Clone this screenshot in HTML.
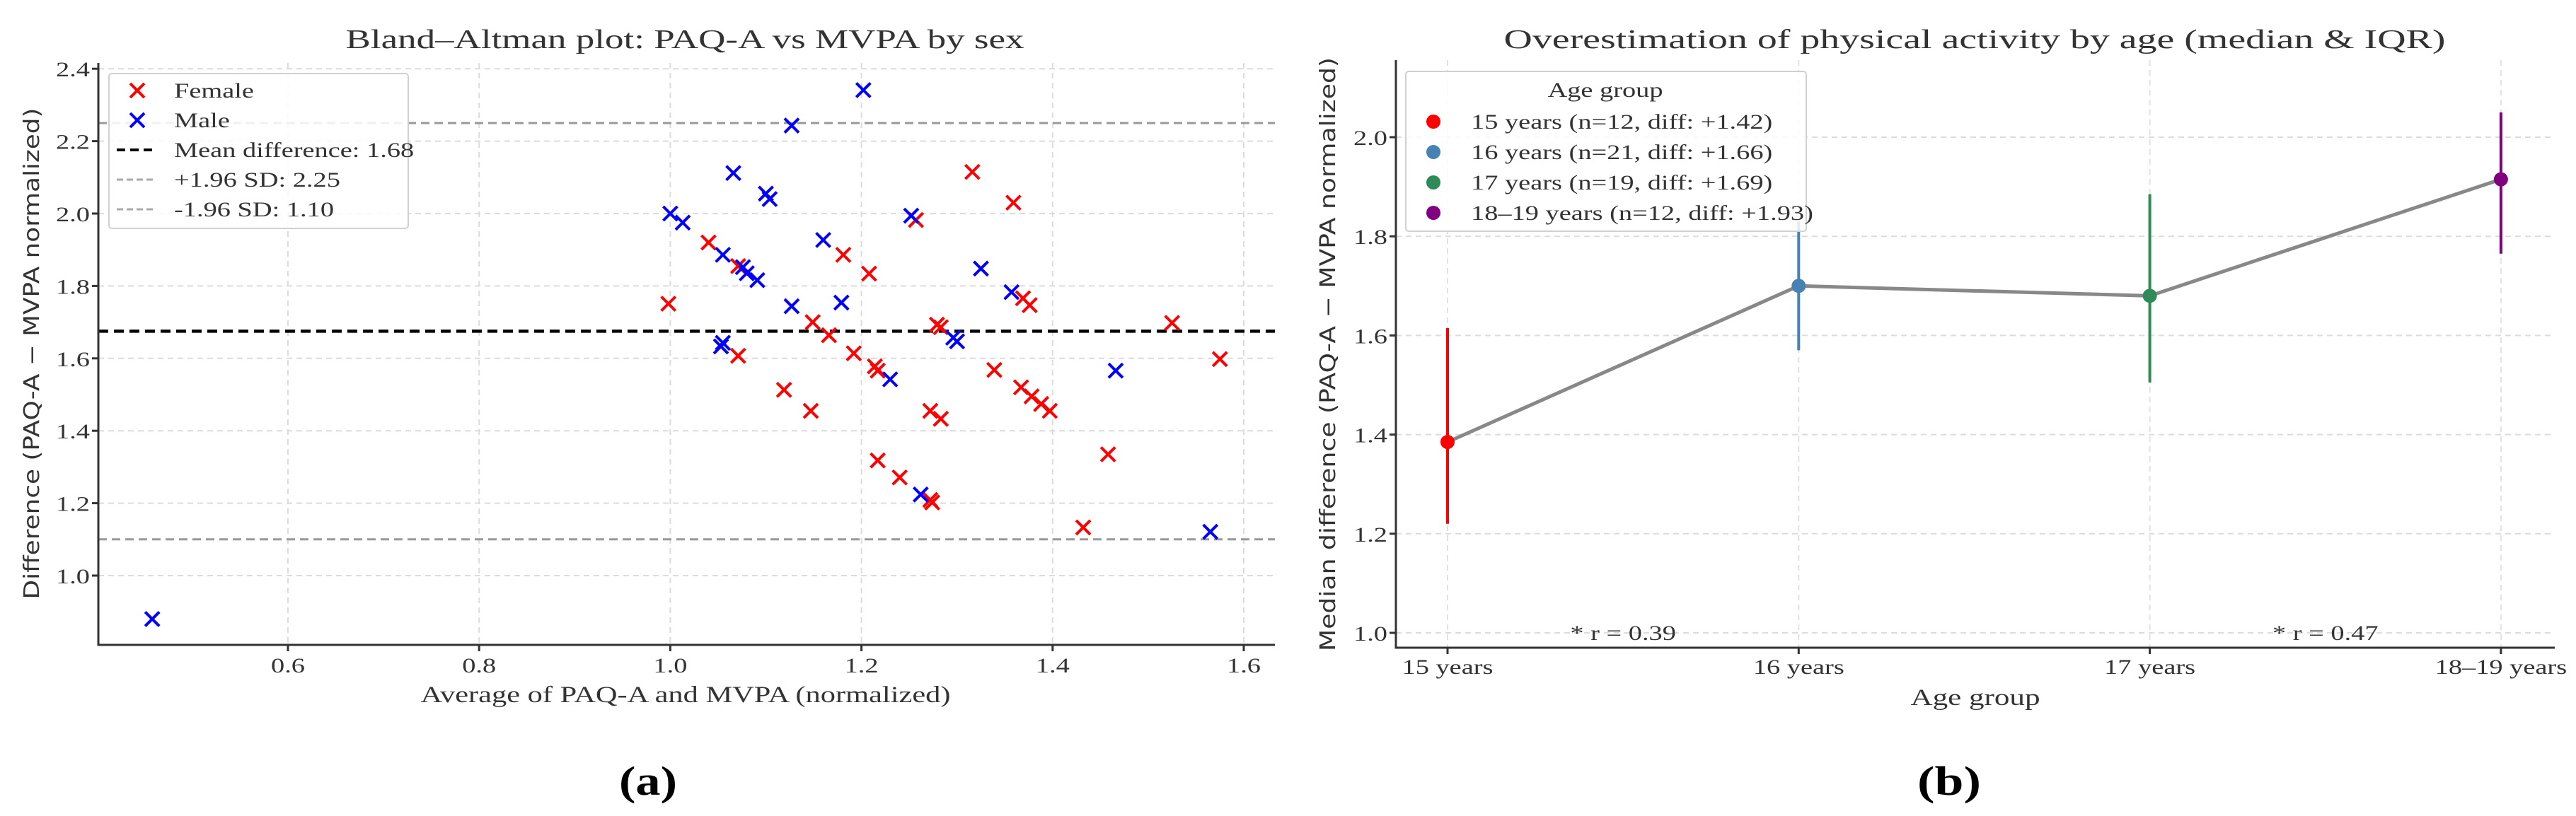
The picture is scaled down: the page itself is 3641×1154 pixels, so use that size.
<!DOCTYPE html>
<html><head><meta charset="utf-8">
<style>
html,body{margin:0;padding:0;background:#fff;}
svg{display:block;}
text{font-family:"Liberation Serif","DejaVu Serif",serif;fill:#333;}
</style></head>
<body>
<svg id="fig" width="3641" height="1154" viewBox="0 0 3641 1154" xmlns="http://www.w3.org/2000/svg">
<g id="pa"></g>
<g id="pb"></g>
</svg>
<script>
// ---- Panel (a) data ----
const femaleX = [0.998,1.040,1.071,1.071,1.119,1.147,1.149,1.166,1.181,1.192,1.208,1.214,1.217,1.217,1.240,1.257,1.272,1.272,1.274,1.279,1.283,1.283,1.316,1.339,1.359,1.367,1.369,1.376,1.378,1.388,1.397,1.432,1.458,1.525,1.575];
const femaleY = [1.751,1.920,1.855,1.607,1.513,1.455,1.700,1.664,1.886,1.614,1.834,1.578,1.566,1.318,1.271,1.982,1.455,1.209,1.202,1.693,1.686,1.433,2.115,1.568,2.030,1.520,1.766,1.747,1.495,1.474,1.455,1.133,1.335,1.698,1.598];
const maleX = [0.458,1.000,1.013,1.055,1.055,1.053,1.066,1.076,1.080,1.091,1.100,1.104,1.127,1.127,1.160,1.179,1.202,1.230,1.252,1.262,1.296,1.300,1.325,1.357,1.466,1.565];
const maleY = [0.880,2.000,1.975,1.886,1.643,1.633,2.112,1.852,1.835,1.816,2.055,2.040,2.243,1.744,1.927,1.754,2.341,1.542,1.994,1.224,1.657,1.647,1.848,1.783,1.566,1.121];
const meanDiff = 1.675;
const upperLoA = 2.25;
const lowerLoA = 1.10;
const aXTicks = [0.6,0.8,1.0,1.2,1.4,1.6];
const aYTicks = [1.0,1.2,1.4,1.6,1.8,2.0,2.2,2.4];
// ---- Panel (b) data ----
const ageGroups = ["15 years","16 years","17 years","18–19 years"];
const medians = [1.385,1.700,1.680,1.915];
const q1 = [1.220,1.570,1.505,1.765];
const q3 = [1.615,1.830,1.885,2.050];
const legendLabels = ["15 years (n=12, diff: +1.42)","16 years (n=21, diff: +1.66)","17 years (n=19, diff: +1.69)","18–19 years (n=12, diff: +1.93)"];
const bYTicks = [1.0,1.2,1.4,1.6,1.8,2.0];
const rLabels = ["* r = 0.39","* r = 0.47"];

const NS="http://www.w3.org/2000/svg";
function el(parent,tag,attrs){const e=document.createElementNS(NS,tag);for(const k in attrs)e.setAttribute(k,attrs[k]);parent.appendChild(e);return e;}
function txt(parent,x,y,s,anchor,size,sx,extra){
  const g=el(parent,'g',{transform:`translate(${x},${y}) scale(${sx},1)`});
  const t=el(g,'text',Object.assign({x:0,y:0,'text-anchor':anchor,'font-size':size},extra||{}));
  t.textContent=s;return t;}
const SX=1.28;

// ===== Panel A =====
const A=document.getElementById('pa');
const aL=139,aR=1802,aT=89,aB=912;
const axX=v=>407+(v-0.6)*1351;
const axY=v=>814-(v-1.0)*512;
aXTicks.forEach(v=>{const l=el(A,'line',{x1:axX(v),x2:axX(v),y1:aT,y2:aB,stroke:'#dcdcdc','stroke-width':2,'stroke-dasharray':'8,6'});

});
aYTicks.forEach(v=>{const l=el(A,'line',{x1:aL,x2:aR,y1:axY(v),y2:axY(v),stroke:'#dcdcdc','stroke-width':2,'stroke-dasharray':'8,6'});

});
[[upperLoA,'upper-loa-line'],[lowerLoA,'lower-loa-line']].forEach(([v,n])=>{const l=el(A,'line',{x1:aL,x2:aR,y1:axY(v),y2:axY(v),stroke:'#999','stroke-width':3,'stroke-dasharray':'12,7'});

});
{const l=el(A,'line',{x1:aL,x2:aR,y1:axY(meanDiff),y2:axY(meanDiff),stroke:'#000','stroke-width':4.5,'stroke-dasharray':'14,8'});

}
function xmark(parent,cx,cy,color){const g=el(parent,'g',{});
el(g,'line',{x1:cx-10,y1:cy-10,x2:cx+10,y2:cy+10,stroke:color,'stroke-width':4});
el(g,'line',{x1:cx-10,y1:cy+10,x2:cx+10,y2:cy-10,stroke:color,'stroke-width':4});return g;}
femaleX.forEach((v,i)=>{const g=xmark(A,axX(v),axY(femaleY[i]),'#ff0000');

});
maleX.forEach((v,i)=>{const g=xmark(A,axX(v),axY(maleY[i]),'#0000ff');

});
el(A,'line',{x1:aL,x2:aL,y1:aT,y2:aB+1.5,stroke:'#333','stroke-width':3});
el(A,'line',{x1:aL-1.5,x2:aR,y1:aB,y2:aB,stroke:'#333','stroke-width':3});
aXTicks.forEach(v=>{el(A,'line',{x1:axX(v),x2:axX(v),y1:aB,y2:aB+9,stroke:'#333','stroke-width':3});
const t=txt(A,axX(v),951,v.toFixed(1),'middle',30,SX);

});
aYTicks.forEach(v=>{el(A,'line',{x1:aL-9,x2:aL,y1:axY(v),y2:axY(v),stroke:'#333','stroke-width':3});
const t=txt(A,127,axY(v)+11,v.toFixed(1),'end',30,SX);

});
{const r=el(A,'rect',{x:154,y:104,width:423,height:219,fill:'rgba(255,255,255,0.85)',stroke:'#d0d0d0','stroke-width':2,rx:4});


const items=[['Female','x','#ff0000',128],['Male','x','#0000ff',170],['Mean difference: 1.68','l','#000',212],['+1.96 SD: 2.25','g','#aaa',254],['-1.96 SD: 1.10','g','#aaa',296]];
items.forEach(([s,k,c,y])=>{if(k==='x')xmark(A,194,y,c);else el(A,'line',{x1:165,x2:220,y1:y,y2:y,stroke:c,'stroke-width':k==='l'?4:3,'stroke-dasharray':k==='l'?'12,7':'9,5'});
const t=txt(A,246,y+10,s,'start',30,SX);

});}
{const t=el(A,'text',{x:968,y:68,'text-anchor':'middle','font-size':38,textLength:959,lengthAdjust:'spacingAndGlyphs'});t.textContent='Bland–Altman plot: PAQ-A vs MVPA by sex';

}
{const t=el(A,'text',{x:969,y:993,'text-anchor':'middle','font-size':33,textLength:749,lengthAdjust:'spacingAndGlyphs'});t.textContent='Average of PAQ-A and MVPA (normalized)';

}
{const t=el(A,'text',{x:0,y:0,transform:'translate(55,500) rotate(-90)','text-anchor':'middle','font-size':30,textLength:695,lengthAdjust:'spacingAndGlyphs',style:'font-family:"DejaVu Sans",sans-serif'});t.textContent='Difference (PAQ-A − MVPA normalized)';

}
{const t=el(A,'text',{x:916,y:1124,'text-anchor':'middle','font-size':58,textLength:82,lengthAdjust:'spacingAndGlyphs','font-weight':'bold'});t.textContent='(a)';t.style.fill='#000';

}

// ===== Panel B =====
const B=document.getElementById('pb');
const bL=1973,bR=3611,bT=85,bB=916;
const bxX=i=>2046+i*496.3;
const byY=v=>895-(v-1.0)*701;
ageGroups.forEach((s,i)=>{const l=el(B,'line',{x1:bxX(i),x2:bxX(i),y1:bT,y2:bB,stroke:'#e2e2e2','stroke-width':2,'stroke-dasharray':'8,6'});

});
bYTicks.forEach(v=>{const l=el(B,'line',{x1:bL,x2:bR,y1:byY(v),y2:byY(v),stroke:'#dcdcdc','stroke-width':2,'stroke-dasharray':'8,6'});

});
{const pts=medians.map((v,i)=>bxX(i)+','+byY(v)).join(' ');
const p=el(B,'polyline',{points:pts,fill:'none',stroke:'#888','stroke-width':5});

}
const cols=['#ff0000','#4682b4','#2e8b57','#800080'];
medians.forEach((v,i)=>{const g=el(B,'g',{});
el(g,'line',{x1:bxX(i),x2:bxX(i),y1:byY(q1[i]),y2:byY(q3[i]),stroke:cols[i],'stroke-width':4});
el(g,'ellipse',{cx:bxX(i),cy:byY(v),rx:10,ry:10,fill:cols[i]});

});
el(B,'line',{x1:bL,x2:bL,y1:bT,y2:bB+1.5,stroke:'#333','stroke-width':3});
el(B,'line',{x1:bL-1.5,x2:bR,y1:bB,y2:bB,stroke:'#333','stroke-width':3});
ageGroups.forEach((s,i)=>{el(B,'line',{x1:bxX(i),x2:bxX(i),y1:bB,y2:bB+9,stroke:'#333','stroke-width':3});
const t=txt(B,bxX(i),953,s,'middle',30,SX);

});
bYTicks.forEach(v=>{el(B,'line',{x1:bL-9,x2:bL,y1:byY(v),y2:byY(v),stroke:'#333','stroke-width':3});
const t=txt(B,1961,byY(v)+11,v.toFixed(1),'end',30,SX);

});
rLabels.forEach((s,i)=>{const t=txt(B,(bxX(2*i)+bxX(2*i+1))/2,905,s,'middle',30,SX);

});
{const r=el(B,'rect',{x:1987,y:101,width:566,height:226,fill:'rgba(255,255,255,0.85)',stroke:'#d0d0d0','stroke-width':2,rx:4});


const tt=txt(B,2269,137,'Age group','middle',30,SX);


legendLabels.forEach((s,i)=>{const y=172+i*43;
el(B,'ellipse',{cx:2026,cy:y,rx:10,ry:10,fill:cols[i]});
const t=txt(B,2079,y+10,s,'start',30,SX);

});}
{const t=el(B,'text',{x:2791,y:68,'text-anchor':'middle','font-size':38,textLength:1331,lengthAdjust:'spacingAndGlyphs'});t.textContent='Overestimation of physical activity by age (median & IQR)';

}
{const t=el(B,'text',{x:2792,y:997,'text-anchor':'middle','font-size':33,textLength:183,lengthAdjust:'spacingAndGlyphs'});t.textContent='Age group';

}
{const t=el(B,'text',{x:0,y:0,transform:'translate(1887,501) rotate(-90)','text-anchor':'middle','font-size':30,textLength:840,lengthAdjust:'spacingAndGlyphs',style:'font-family:"DejaVu Sans",sans-serif'});t.textContent='Median difference (PAQ-A − MVPA normalized)';

}
{const t=el(B,'text',{x:2755,y:1124,'text-anchor':'middle','font-size':58,textLength:90,lengthAdjust:'spacingAndGlyphs','font-weight':'bold'});t.textContent='(b)';t.style.fill='#000';

}
</script>
</body></html>
